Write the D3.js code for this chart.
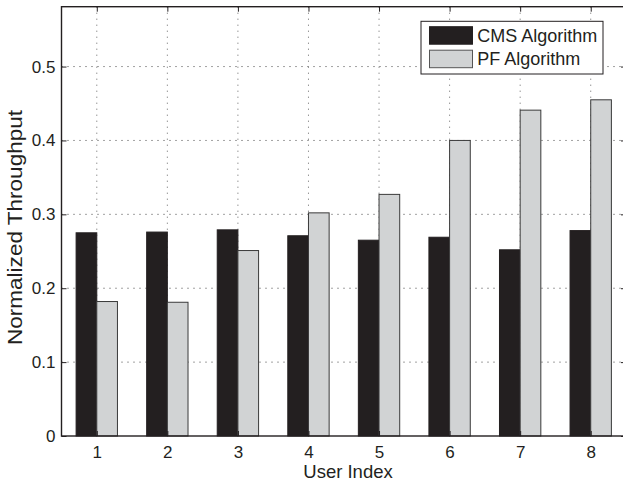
<!DOCTYPE html>
<html>
<head>
<meta charset="utf-8">
<script src="https://cdn.jsdelivr.net/npm/d3@7/dist/d3.min.js"></script>
<style>
  html, body { margin: 0; padding: 0; background: #fff; }
  svg { display: block; font-family: "Liberation Sans", Arial, Helvetica, sans-serif; }
</style>
</head>
<body>
<svg id="chart" width="623" height="484"></svg>
<script>
// Per-user normalized throughput for the two schedulers
const users = [1, 2, 3, 4, 5, 6, 7, 8];
const cmsValues = [0.275, 0.276, 0.279, 0.271, 0.265, 0.269, 0.252, 0.278];
const pfValues  = [0.182, 0.181, 0.251, 0.302, 0.327, 0.400, 0.441, 0.455];
const seriesNames = ["CMS Algorithm", "PF Algorithm"];
const seriesColors = ["#231f20", "#d1d3d4"];
const yTicks = [0, 0.1, 0.2, 0.3, 0.4, 0.5];

const svg = d3.select("#chart");
const ink = "#231f20";
const fontStack = "'Liberation Sans', Arial, Helvetica, sans-serif";

const plotLeft = 61.5, plotTop = 6.7, plotBottom = 436, plotRight = 626;

const x = d3.scaleLinear().domain([0.5, 8.5]).range([plotLeft, plotRight]);
const y = d3.scaleLinear().domain([0, 0.581]).range([plotBottom, plotTop]);

const barW = 0.293; // width of each bar in category units

// Dotted grid behind the bars
const grid = svg.append("g");
grid.selectAll("line.gy").data(yTicks.filter(d => d > 0)).join("line")
  .attr("x1", plotLeft).attr("x2", plotRight)
  .attr("y1", d => y(d)).attr("y2", d => y(d))
  .attr("stroke", "#444").attr("stroke-width", 1)
  .attr("stroke-dasharray", "1,5");
grid.selectAll("line.gx").data(users).join("line")
  .attr("x1", d => x(d)).attr("x2", d => x(d))
  .attr("y1", plotTop).attr("y2", plotBottom)
  .attr("stroke", "#666").attr("stroke-width", 1)
  .attr("stroke-dasharray", "1,5");

// Grouped bars
const series = [cmsValues, pfValues];
series.forEach((vals, si) => {
  svg.append("g").selectAll("rect").data(vals).join("rect")
    .attr("x", (d, i) => x(users[i] + (si - 1) * barW))
    .attr("width", x(barW) - x(0))
    .attr("y", d => y(d))
    .attr("height", d => y(0) - y(d))
    .attr("fill", seriesColors[si])
    .attr("stroke", si === 0 ? ink : "#3a3a3a")
    .attr("stroke-width", 1);
});

// Axes: ticks pointing inward on all four sides
const yAxisL = d3.axisLeft(y).tickValues(yTicks).tickSize(-5).tickPadding(6)
  .tickFormat(d => d === 0 ? "0" : d3.format(".1f")(d));
const gyl = svg.append("g").attr("transform", `translate(${plotLeft},0)`).call(yAxisL);
const yAxisR = d3.axisRight(y).tickValues(yTicks).tickSize(-5).tickFormat("");
const gyr = svg.append("g").attr("transform", `translate(${plotRight},0)`).call(yAxisR);
const xAxisB = d3.axisBottom(x).tickValues(users).tickSize(-5).tickPadding(9.5).tickFormat(d3.format("d"));
const gxb = svg.append("g").attr("transform", `translate(0,${plotBottom})`).call(xAxisB);
const xAxisT = d3.axisTop(x).tickValues(users).tickSize(-5).tickFormat("");
const gxt = svg.append("g").attr("transform", `translate(0,${plotTop})`).call(xAxisT);

[gyl, gyr, gxb, gxt].forEach(g => {
  g.attr("font-family", fontStack).attr("font-size", 17);
  g.select(".domain").remove();
  g.selectAll(".tick line").attr("stroke", ink).attr("stroke-width", 1);
  g.selectAll(".tick text").attr("fill", ink);
});

// Plot frame
svg.append("rect")
  .attr("x", plotLeft).attr("y", plotTop)
  .attr("width", plotRight - plotLeft).attr("height", plotBottom - plotTop)
  .attr("fill", "none").attr("stroke", ink).attr("stroke-width", 1.4);

// Axis titles
svg.append("text")
  .attr("x", 348).attr("y", 478)
  .attr("text-anchor", "middle").attr("fill", ink)
  .attr("font-family", fontStack).attr("font-size", 18.5)
  .text("User Index");
svg.append("text")
  .attr("transform", `translate(22.3,227.5) rotate(-90)`)
  .attr("text-anchor", "middle").attr("fill", ink)
  .attr("font-family", fontStack).attr("font-size", 21)
  .attr("textLength", 235).attr("lengthAdjust", "spacingAndGlyphs")
  .text("Normalized Throughput");

// Legend
const lg = svg.append("g");
lg.append("rect").attr("x", 421).attr("y", 21.3).attr("width", 182).attr("height", 52.7)
  .attr("fill", "#fff").attr("stroke", ink).attr("stroke-width", 1);
seriesNames.forEach((name, i) => {
  const yy = 26.7 + i * 23.5;
  lg.append("rect").attr("x", 429.5).attr("y", yy).attr("width", 43).attr("height", 17.5)
    .attr("fill", seriesColors[i]).attr("stroke", i === 0 ? ink : "#555").attr("stroke-width", 1);
  lg.append("text").attr("x", 477.3).attr("y", yy + 15.2).attr("fill", ink)
    .attr("font-family", fontStack).attr("font-size", 18)
    .text(name);
});
</script>
</body>
</html>
